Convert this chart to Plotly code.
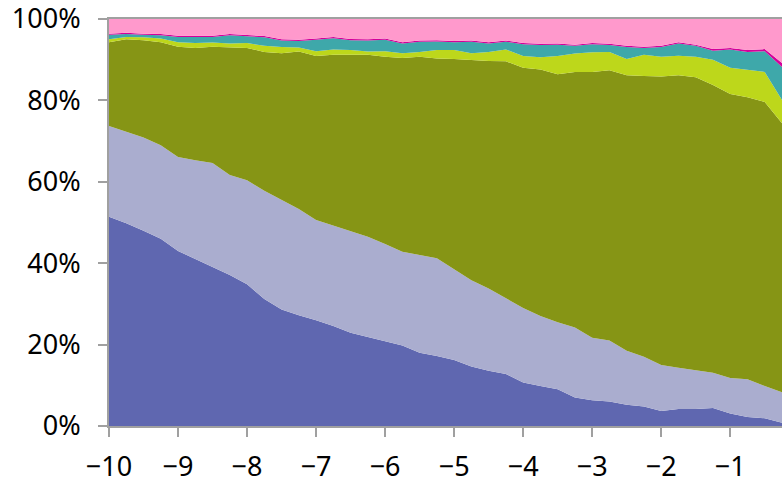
import plotly.graph_objects as go

x_years = [-10 + 0.25 * k for k in range(40)]

series_names = ["A", "B", "C", "D", "E", "F", "G"]

blue = [51.4, 49.8, 48.0, 46.0, 43.0, 41.0, 39.0, 37.1, 34.8, 31.2,
        28.6, 27.2, 26.0, 24.6, 22.9, 21.8, 20.8, 19.8, 18.0, 17.2,
        16.2, 14.6, 13.6, 12.8, 10.7, 9.8, 9.0, 7.0, 6.3, 6.0,
        5.2, 4.8, 3.7, 4.2, 4.2, 4.4, 3.1, 2.2, 1.9, 0.8]
lavender = [22.3, 22.5, 22.9, 23.0, 23.1, 24.3, 25.6, 24.6, 25.6, 26.6,
            26.9, 26.1, 24.6, 24.6, 25.0, 24.7, 23.9, 23.0, 24.0, 24.0,
            22.3, 21.2, 20.2, 18.7, 18.3, 17.2, 16.5, 17.2, 15.4, 15.0,
            13.3, 12.2, 11.3, 10.1, 9.5, 8.7, 8.7, 9.3, 7.9, 7.5]
olive = [20.6, 22.7, 23.9, 25.3, 27.1, 27.6, 28.6, 31.3, 32.5, 34.1,
         36.1, 38.7, 40.3, 42.0, 43.3, 44.7, 46.0, 47.6, 48.7, 49.1,
         51.7, 54.1, 55.9, 58.1, 59.0, 60.6, 60.9, 62.8, 65.3, 66.4,
         67.7, 69.0, 70.9, 71.9, 72.0, 70.7, 69.8, 69.3, 69.8, 66.1]
yellow = [0.7, 0.6, 0.7, 0.9, 1.1, 1.2, 1.0, 1.0, 1.2, 1.5,
          1.5, 1.0, 1.2, 1.3, 1.2, 0.8, 1.4, 1.2, 1.2, 2.1,
          2.2, 1.7, 2.2, 2.9, 2.9, 3.0, 4.5, 4.5, 4.8, 4.5,
          4.0, 5.2, 4.8, 4.8, 5.0, 6.2, 6.4, 6.7, 7.4, 5.7]
teal = [1.1, 0.7, 0.6, 0.8, 1.3, 1.5, 1.4, 2.0, 1.7, 2.1,
        1.6, 1.6, 2.8, 2.8, 2.4, 2.7, 2.8, 2.4, 2.5, 2.1,
        1.9, 2.8, 2.1, 1.9, 2.9, 3.0, 2.8, 1.9, 2.0, 1.7,
        2.9, 1.7, 2.4, 3.0, 2.7, 2.2, 4.5, 4.4, 5.1, 8.1]
magenta = [0.3] * 35 + [0.4, 0.4, 0.5, 0.5, 1.0]
pink = [3.6, 3.4, 3.6, 3.7, 4.1, 4.1, 4.1, 3.7, 3.9, 4.2,
        5.0, 5.1, 4.8, 4.4, 4.9, 5.0, 4.8, 5.7, 5.3, 5.2,
        5.4, 5.3, 5.7, 5.3, 5.9, 6.1, 6.0, 6.3, 5.9, 6.1,
        6.6, 6.8, 6.6, 5.7, 6.3, 7.4, 7.1, 7.6, 7.4, 10.8]

colors = ["#5F67B0", "#AAADCF", "#869515", "#BDD71B", "#3EA8AA", "#D4009A", "#FF99CC"]
all_series = [blue, lavender, olive, yellow, teal, magenta, pink]

x_ticks = list(range(-10, 0))
x_tick_labels = ["\u2212" + str(-v) for v in x_ticks]
y_ticks = [0, 20, 40, 60, 80, 100]
y_tick_labels = ["0%", "20%", "40%", "60%", "80%", "100%"]

fig = go.Figure()
for name, vals, col in zip(series_names, all_series, colors):
    fig.add_trace(go.Scatter(
        x=x_years, y=vals, name=name, mode="lines",
        stackgroup="one", groupnorm="percent",
        line=dict(width=0, color=col), fillcolor=col,
        hoverinfo="skip",
    ))

axis_col = "#A0A0A0"
fig.update_layout(
    width=783, height=479,
    margin=dict(l=109, r=1, t=19, b=53),
    paper_bgcolor="white", plot_bgcolor="white",
    showlegend=False,
    font=dict(family="Noto Sans", size=27, color="#000000"),
    xaxis=dict(
        range=[-10, -0.25], tickmode="array", tickvals=x_ticks, ticktext=x_tick_labels,
        showgrid=False, zeroline=False, automargin=False, ticklabeloverflow="allow",
        showline=True, linecolor=axis_col, linewidth=2, mirror=True,
        ticks="outside", ticklen=9, tickwidth=2, tickcolor=axis_col,
        ticklabelstandoff=7,
    ),
    yaxis=dict(
        range=[0, 100], tickmode="array", tickvals=y_ticks, ticktext=y_tick_labels,
        showgrid=False, automargin=False, ticklabeloverflow="allow",
        zeroline=False, showline=True, linecolor=axis_col, linewidth=2,
        ticks="outside", ticklen=9, tickwidth=2, tickcolor=axis_col,
        ticklabelstandoff=12,
    ),
)

fig.write_html("out.html", config={"displayModeBar": False},
               post_script="document.body.style.margin='0';")
